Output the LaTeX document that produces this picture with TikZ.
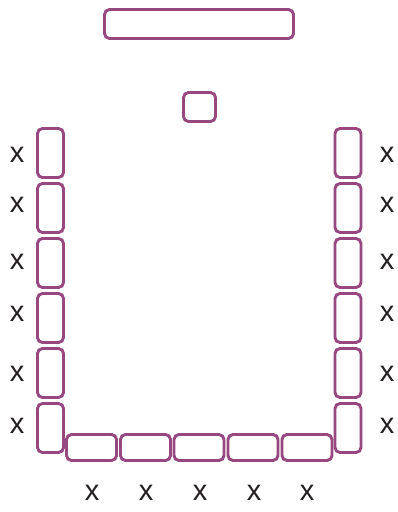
\documentclass[tikz,border=0pt]{standalone}
\usepackage{fontspec}
\setmainfont{Liberation Sans}
\definecolor{seatpurple}{RGB}{152,72,128}
\definecolor{inkgrey}{RGB}{35,31,32}
\begin{document}
\begin{tikzpicture}[x=1pt,y=-1pt,
  seat/.style={draw=seatpurple,line width=2.9pt,rounded corners=5pt,inner sep=0pt,minimum width=26pt,minimum height=49pt},
  bench/.style={seat,minimum width=50pt,minimum height=26pt},
  cross/.style={inner sep=0pt,text=inkgrey,font=\fontsize{29}{30}\selectfont}]
\useasboundingbox (0,0) rectangle (398,512);

\node[seat,minimum width=189pt,minimum height=29pt] (board) at (199,24) {};
\node[seat,minimum width=32pt,minimum height=29pt] (desk) at (199.5,107) {};

\node[seat] (l1) at (50.5,153) {};
\node[seat] (l2) at (50.5,208) {};
\node[seat] (l3) at (50.5,263) {};
\node[seat] (l4) at (50.5,318) {};
\node[seat] (l5) at (50.5,373) {};
\node[seat] (l6) at (50.5,428) {};

\node[seat] (r1) at (348,153) {};
\node[seat] (r2) at (348,208) {};
\node[seat] (r3) at (348,263) {};
\node[seat] (r4) at (348,318) {};
\node[seat] (r5) at (348,373) {};
\node[seat] (r6) at (348,428) {};

\node[bench] (b1) at (91.5,447.5) {};
\node[bench] (b2) at (145.5,447.5) {};
\node[bench] (b3) at (199,447.5) {};
\node[bench] (b4) at (253,447.5) {};
\node[bench] (b5) at (307,447.5) {};

\node[cross] (lx1) at (17,155) {x};
\node[cross] (lx2) at (17,205) {x};
\node[cross] (lx3) at (17,262) {x};
\node[cross] (lx4) at (17,314) {x};
\node[cross] (lx5) at (17,374) {x};
\node[cross] (lx6) at (17,426) {x};

\node[cross] (rx1) at (387,155) {x};
\node[cross] (rx2) at (387,205) {x};
\node[cross] (rx3) at (387,262) {x};
\node[cross] (rx4) at (387,314) {x};
\node[cross] (rx5) at (387,374) {x};
\node[cross] (rx6) at (387,426) {x};

\node[cross] (bx1) at (92,493) {x};
\node[cross] (bx2) at (146,493) {x};
\node[cross] (bx3) at (200,493) {x};
\node[cross] (bx4) at (254,493) {x};
\node[cross] (bx5) at (307,493) {x};
\end{tikzpicture}
\end{document}
